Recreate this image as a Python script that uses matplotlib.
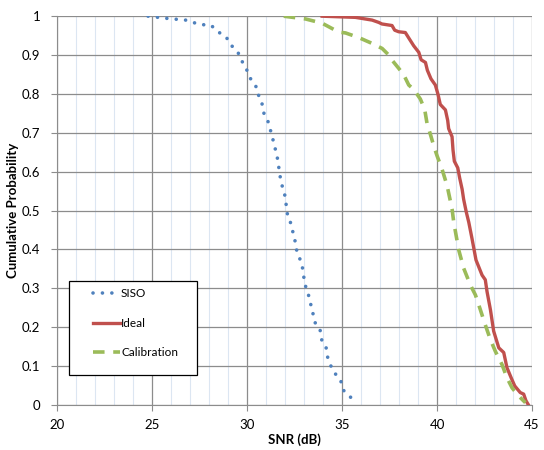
import matplotlib
matplotlib.use('Agg')
import matplotlib.pyplot as plt
from matplotlib.patches import Rectangle

plt.rcParams['font.family'] = ['Lato', 'DejaVu Sans']

# SISO (dotted blue)
siso_snr = [24.79, 25.18, 25.56, 25.93, 26.30, 26.67, 27.04, 27.37, 27.72, 28.09,
            28.35, 28.61, 28.91, 29.07, 29.28, 29.53, 29.67, 29.86, 30.02, 30.16,
            30.35, 30.54, 30.61, 30.77, 30.82, 30.91, 31.09, 31.19, 31.28, 31.37,
            31.46, 31.54, 31.63, 31.67, 31.72, 31.79, 31.88, 31.98, 32.04, 32.09,
            32.14, 32.28, 32.37, 32.47, 32.54, 32.59, 32.72, 32.84, 32.93, 32.98,
            33.02, 33.14, 33.25, 33.33, 33.44, 33.49, 33.59, 33.83, 33.89, 33.95,
            34.16, 34.19, 34.30, 34.44, 34.61, 34.88, 35.00, 35.10, 35.38, 35.63]
siso_prob = [1.000, 0.998, 0.995, 0.994, 0.992, 0.991, 0.987, 0.980, 0.978, 0.977,
             0.966, 0.955, 0.946, 0.931, 0.919, 0.906, 0.889, 0.874, 0.858, 0.841,
             0.827, 0.814, 0.796, 0.781, 0.763, 0.746, 0.731, 0.714, 0.698, 0.681,
             0.664, 0.646, 0.628, 0.611, 0.593, 0.575, 0.557, 0.541, 0.521, 0.504,
             0.484, 0.470, 0.452, 0.435, 0.418, 0.401, 0.384, 0.367, 0.350, 0.332,
             0.314, 0.297, 0.280, 0.262, 0.245, 0.228, 0.211, 0.197, 0.179, 0.162,
             0.148, 0.131, 0.114, 0.097, 0.082, 0.068, 0.053, 0.036, 0.023, 0.012]

# Ideal (solid red)
ideal_snr = [33.95, 35.70, 36.58, 36.93, 37.10, 37.63, 37.77, 37.98, 38.33, 38.51,
             38.77, 39.04, 39.16, 39.39, 39.49, 39.68, 39.91, 40.05, 40.17, 40.44,
             40.56, 40.61, 40.79, 40.84, 40.91, 41.09, 41.19, 41.32, 41.40, 41.54,
             41.67, 41.84, 42.05, 42.37, 42.54, 42.63, 42.81, 42.98, 43.25, 43.51,
             43.68, 43.91, 44.09, 44.38, 44.56, 44.68, 44.79]
ideal_prob = [1.000, 0.997, 0.990, 0.984, 0.980, 0.976, 0.964, 0.960, 0.958, 0.944,
              0.924, 0.907, 0.888, 0.881, 0.861, 0.839, 0.823, 0.799, 0.773, 0.759,
              0.732, 0.711, 0.690, 0.656, 0.627, 0.610, 0.584, 0.555, 0.529, 0.496,
              0.470, 0.428, 0.373, 0.334, 0.322, 0.292, 0.245, 0.190, 0.147, 0.135,
              0.096, 0.069, 0.049, 0.032, 0.028, 0.011, 0.002]

# Calibration (dashed green)
calib_snr = [31.93, 33.07, 33.95, 34.83, 35.18, 35.88, 36.58, 37.11, 37.46, 37.63,
             37.98, 38.25, 38.51, 38.77, 39.12, 39.35, 39.47, 39.65, 39.83, 40.00,
             40.26, 40.53, 40.79, 40.88, 41.14, 41.40, 41.75, 42.02, 42.28, 42.54,
             42.81, 43.07, 43.42, 43.68, 43.95, 44.30, 44.65]
calib_prob = [1.000, 0.993, 0.982, 0.959, 0.957, 0.945, 0.930, 0.917, 0.900, 0.887,
              0.866, 0.849, 0.823, 0.812, 0.787, 0.760, 0.725, 0.696, 0.666, 0.641,
              0.607, 0.564, 0.504, 0.470, 0.399, 0.352, 0.309, 0.283, 0.245, 0.206,
              0.168, 0.138, 0.104, 0.070, 0.044, 0.023, 0.006]

x_ticks = [20, 25, 30, 35, 40, 45]
y_ticks = [0, 0.1, 0.2, 0.3, 0.4, 0.5, 0.6, 0.7, 0.8, 0.9, 1]
y_labels = ['0', '0.1', '0.2', '0.3', '0.4', '0.5', '0.6', '0.7', '0.8', '0.9', '1']

fig = plt.figure(figsize=(5.44, 4.5), dpi=100)
ax = fig.add_axes([0.105, 0.1, 0.873, 0.864])

ax.plot(siso_snr, siso_prob, color='#4F81BD', lw=2.6, linestyle=(0, (0.01, 2.6)),
        dash_capstyle='round', label='SISO', zorder=3)
ax.plot(ideal_snr, ideal_prob, color='#C0504D', lw=2.4, label='Ideal', zorder=3)
ax.plot(calib_snr, calib_prob, color='#9BBB59', lw=2.6, linestyle=(0, (3.2, 2.4)),
        label='Calibration', zorder=3)

ax.set_xlim(20, 45)
ax.set_ylim(0, 1)
ax.set_xticks(x_ticks)
ax.set_xticks(range(20, 46), minor=True)
ax.set_yticks(y_ticks)
ax.set_yticklabels(y_labels)

ax.grid(which='minor', axis='x', color='#DCE6F2', lw=0.8, zorder=0)
ax.grid(which='major', axis='x', color='#8C8C8C', lw=0.9, zorder=1)
ax.grid(which='major', axis='y', color='#8C8C8C', lw=0.9, zorder=1)

for s in ['top', 'right']:
    ax.spines[s].set_visible(False)
for s in ['left', 'bottom']:
    ax.spines[s].set_color('#8C8C8C')
ax.tick_params(which='major', length=4, color='#8C8C8C', labelsize=9.5)
ax.tick_params(axis='y', pad=8)
ax.tick_params(axis='x', pad=6)
ax.tick_params(which='minor', length=0)

ax.set_xlabel('SNR (dB)', fontsize=9.5, fontweight='bold', labelpad=2)
ax.set_ylabel('Cumulative Probability', fontsize=9.5, fontweight='bold')
ax.yaxis.set_label_coords(-0.08, 0.5)

ax.add_patch(Rectangle((0.025, 0.078), 0.27, 0.242, transform=ax.transAxes,
                       facecolor='white', edgecolor='black', lw=0.9, zorder=4))
leg = ax.legend(loc='upper left', bbox_to_anchor=(0.075, 0.30), frameon=False,
                fontsize=8.5, handlelength=2.3, handletextpad=0.1,
                labelspacing=1.55, borderpad=0, borderaxespad=0)
leg.set_zorder(5)

fig.savefig('out.png', dpi=100)
